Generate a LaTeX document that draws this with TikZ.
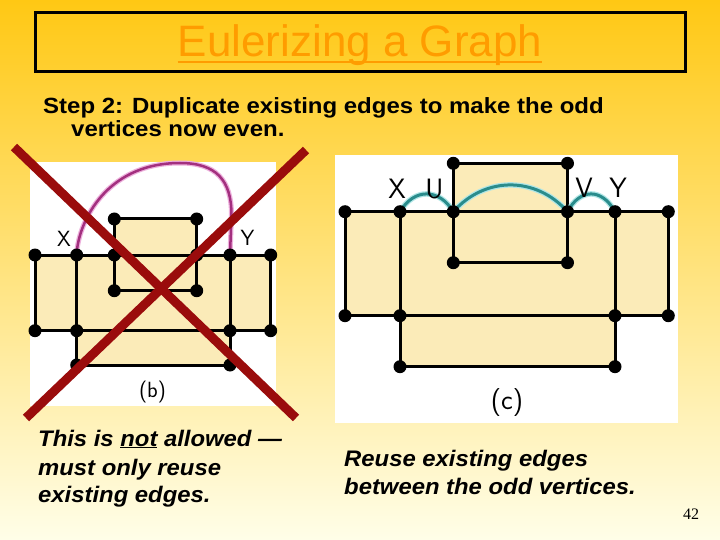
\documentclass[tikz,border=0pt]{standalone}
\usepackage{fontspec}
\setmainfont{Liberation Sans}
\newfontfamily\stepfont[FakeStretch=1.09]{Liberation Sans}
\newfontfamily\notefont[FakeStretch=1.06]{Liberation Sans}
\newfontfamily\numfont{Liberation Serif}
\definecolor{bgtop}{HTML}{FFC814}
\definecolor{bgmid}{HTML}{FFE680}
\definecolor{bgbot}{HTML}{FFFEE8}
\definecolor{titleor}{HTML}{FF9C00}
\definecolor{gfill}{HTML}{FBEBB8}
\definecolor{crossred}{HTML}{9A0C0C}
\definecolor{arcpurple}{HTML}{A3307F}
\definecolor{arcpink}{HTML}{EDB0DC}
\definecolor{arcteal}{HTML}{2A8C8C}
\definecolor{arcglow}{HTML}{B0E6E6}
\pgfdeclarelayer{back}
\pgfdeclarelayer{front}
\pgfsetlayers{back,main,front}
\begin{document}
\begin{tikzpicture}[x=1pt,y=-1pt,
  vtx/.style={circle,fill=black,inner sep=0pt,minimum size=13pt},
  edge/.style={line width=3pt,black},
  lblb/.style={inner sep=0pt,font=\fontsize{22}{22}\sffamily\selectfont},
  lblc/.style={inner sep=0pt,font=\fontsize{28}{28}\sffamily\selectfont},
  steptxt/.style={inner sep=0pt,anchor=base west,font=\fontsize{22}{23}\stepfont\bfseries},
  notetxt/.style={inner sep=0pt,anchor=base west,font=\fontsize{22.5}{28}\notefont\bfseries\itshape},
  crossline/.style={line width=9pt,crossred}]
\useasboundingbox (0,0) rectangle (720,540);
\begin{pgfonlayer}{back}
\shade[top color=bgtop,middle color=bgmid,bottom color=bgbot] (0,0) rectangle (720,540);
% panels
\fill[white] (30,162) rectangle (276,406);
\fill[white] (335,155) rectangle (677.5,423);
% graph fills
\fill[gfill] (35,255) -- (114.3,255) -- (114.3,219) -- (196.7,219) -- (196.7,255) -- (270.7,255)
  -- (270.7,330.7) -- (230,330.7) -- (230,365) -- (76.7,365) -- (76.7,330.7) -- (35,330.7) -- cycle;
\fill[gfill] (345,211.7) -- (453.3,211.7) -- (453.3,163.3) -- (567.5,163.3) -- (567.5,211.7) -- (668.3,211.7)
  -- (668.3,315.7) -- (615,315.7) -- (615,366.7) -- (400,366.7) -- (400,315.7) -- (345,315.7) -- cycle;
\end{pgfonlayer}

% title
\node (titlebox) [draw=black,line width=3pt,minimum width=650pt,minimum height=59.5pt,inner sep=0pt] at (360.5,42.25) {};
\node (title) [inner sep=0pt,anchor=base,text=titleor,font=\fontsize{44}{44}\selectfont] at (360,56.7) {Eulerizing a Graph};
\draw[titleor,line width=2.5pt] ([yshift=-5.3pt]title.base west) -- ([yshift=-5.3pt]title.base east);

\node (step1) [steptxt] at (43,114) {Step 2: Duplicate existing edges to make the odd};
\node (step2) [steptxt] at (71,137) {vertices now even.};

% graph (b) vertices
\node[vtx] (bT1) at (114.3,219) {};
\node[vtx] (bT2) at (196.7,219) {};
\node[vtx] (bA) at (35,255) {};
\node[vtx] (bX) at (76.7,255) {};
\node[vtx] (bU) at (114.3,255) {};
\node[vtx] (bV) at (196.7,255) {};
\node[vtx] (bY) at (230,255) {};
\node[vtx] (bB) at (270.7,255) {};
\node[vtx] (bI1) at (114.3,290.7) {};
\node[vtx] (bI2) at (196.7,290.7) {};
\node[vtx] (bC) at (35,330.7) {};
\node[vtx] (bD) at (76.7,330.7) {};
\node[vtx] (bE) at (230,330.7) {};
\node[vtx] (bF) at (270.7,330.7) {};
\node[vtx] (bG) at (76.7,365) {};
\node[vtx] (bH) at (230,365) {};

% graph (c) vertices
\node[vtx] (cT1) at (453.3,163.3) {};
\node[vtx] (cT2) at (567.5,163.3) {};
\node[vtx] (cA) at (345,211.7) {};
\node[vtx] (cX) at (400,211.7) {};
\node[vtx] (cU) at (453.3,211.7) {};
\node[vtx] (cV) at (567.5,211.7) {};
\node[vtx] (cY) at (615,211.7) {};
\node[vtx] (cB) at (668.3,211.7) {};
\node[vtx] (cI1) at (453.3,262.7) {};
\node[vtx] (cI2) at (567.5,262.7) {};
\node[vtx] (cC) at (345,315.7) {};
\node[vtx] (cD) at (400,315.7) {};
\node[vtx] (cE) at (615,315.7) {};
\node[vtx] (cF) at (668.3,315.7) {};
\node[vtx] (cG) at (400,366.7) {};
\node[vtx] (cH) at (615,366.7) {};

\begin{pgfonlayer}{back}
% edges (b)
\draw[edge] (bA.center) -- (bX.center) -- (bU.center) -- (bV.center) -- (bY.center) -- (bB.center);
\draw[edge] (bT1.center) -- (bT2.center);
\draw[edge] (bT1.center) -- (bU.center) -- (bI1.center);
\draw[edge] (bT2.center) -- (bV.center) -- (bI2.center);
\draw[edge] (bI1.center) -- (bI2.center);
\draw[edge] (bA.center) -- (bC.center);
\draw[edge] (bX.center) -- (bD.center) -- (bG.center);
\draw[edge] (bY.center) -- (bE.center) -- (bH.center);
\draw[edge] (bB.center) -- (bF.center);
\draw[edge] (bC.center) -- (bD.center) -- (bE.center) -- (bF.center);
\draw[edge] (bG.center) -- (bH.center);
% added curve (b)
\draw[arcpink,line width=5pt] (bX.center) .. controls (77,228) and (102,163) .. (180,163)
  .. controls (216,163) and (231.5,180) .. (231.5,215) -- (bY.center);
\draw[arcpurple,line width=2.5pt] (bX.center) .. controls (77,228) and (102,163) .. (180,163)
  .. controls (216,163) and (231.5,180) .. (231.5,215) -- (bY.center);
% edges (c)
\draw[edge] (cA.center) -- (cX.center) -- (cU.center) -- (cV.center) -- (cY.center) -- (cB.center);
\draw[edge] (cT1.center) -- (cT2.center);
\draw[edge] (cT1.center) -- (cU.center) -- (cI1.center);
\draw[edge] (cT2.center) -- (cV.center) -- (cI2.center);
\draw[edge] (cI1.center) -- (cI2.center);
\draw[edge] (cA.center) -- (cC.center);
\draw[edge] (cX.center) -- (cD.center) -- (cG.center);
\draw[edge] (cY.center) -- (cE.center) -- (cH.center);
\draw[edge] (cB.center) -- (cF.center);
\draw[edge] (cC.center) -- (cD.center) -- (cE.center) -- (cF.center);
\draw[edge] (cG.center) -- (cH.center);
% duplicated edges (c)
\foreach \w/\c in {5.5pt/arcglow,3pt/arcteal}{
  \draw[\c,line width=\w] (cX.center) .. controls (414,188) and (439,188) .. (cU.center);
  \draw[\c,line width=\w] (cU.center) .. controls (485,176) and (536,176) .. (cV.center);
  \draw[\c,line width=\w] (cV.center) .. controls (580,188) and (602,188) .. (cY.center);
}
\end{pgfonlayer}

% labels
\node (lbX) [lblb] at (64,238.5) {X};
\node (lbY) [lblb] at (247.5,237.5) {Y};
\node (lbb) [lblb] at (152.5,392) {(b)};
\node (lcX) [lblc] at (397,189) {X};
\node (lcU) [lblc] at (434.5,189) {U};
\node (lcV) [lblc] at (584,188) {V};
\node (lcY) [lblc] at (618,187.5) {Y};
\node (lcc) [lblc] at (507,402.5) {(c)};

% cross
\begin{pgfonlayer}{front}
\coordinate (x1a) at (14,147);
\coordinate (x1b) at (296,418);
\coordinate (x2a) at (306,150);
\coordinate (x2b) at (26,418);
\draw[crossline] (x1a) -- (x1b);
\draw[crossline] (x2a) -- (x2b);
\end{pgfonlayer}

% notes
\node (n1) [notetxt] at (38,446) {This is \underline{not} allowed —};
\node (n2) [notetxt] at (38,475) {must only reuse};
\node (n3) [notetxt] at (38,502) {existing edges.};
\node (n4) [notetxt] at (344,466) {Reuse existing edges};
\node (n5) [notetxt] at (344,494) {between the odd vertices.};
\node (pg) [inner sep=0pt,anchor=base,font=\fontsize{16}{16}\numfont] at (691,519.5) {42};
\end{tikzpicture}
\end{document}
